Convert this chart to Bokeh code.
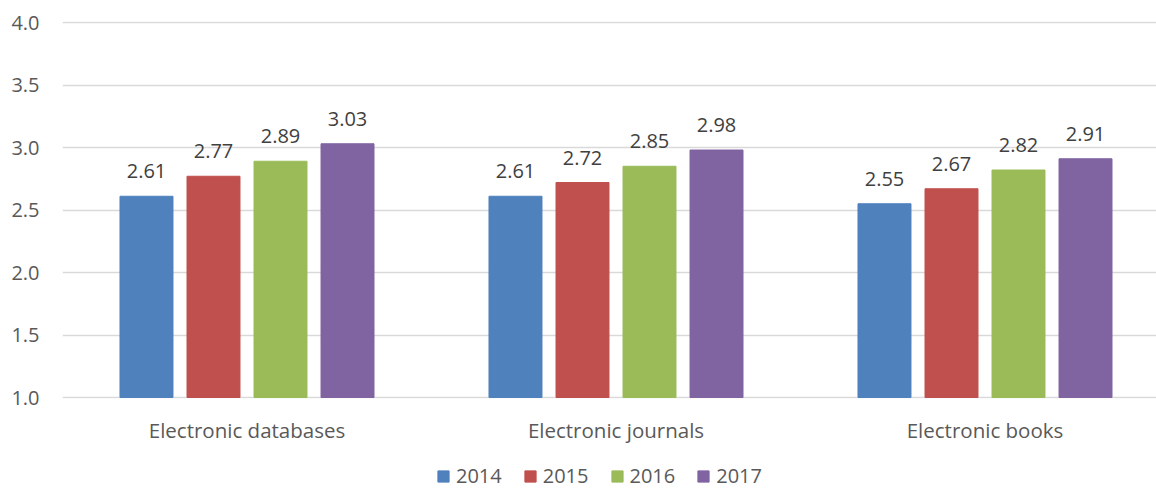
from bokeh.plotting import figure
from bokeh.layouts import column
from bokeh.models import Range1d, FixedTicker, Legend, LegendItem, ColumnDataSource
from bokeh.core.properties import value
from bokeh.embed import file_html
from bokeh.resources import INLINE

categories = ["Electronic databases", "Electronic journals", "Electronic books"]
years = ["2014", "2015", "2016", "2017"]
v2014 = [2.61, 2.61, 2.55]
v2015 = [2.77, 2.72, 2.67]
v2016 = [2.89, 2.85, 2.82]
v2017 = [3.03, 2.98, 2.91]
y_ticks = [1.0, 1.5, 2.0, 2.5, 3.0, 3.5, 4.0]

series = [v2014, v2015, v2016, v2017]
colors = ["#4F81BD", "#C0504D", "#9BBB59", "#8064A2"]
offsets = [-0.2724, -0.0908, 0.0908, 0.2724]
bar_w = 0.1436
FONT = "Open Sans"

p = figure(width=1156, height=458,
           x_range=Range1d(0, 1094 / 369), y_range=Range1d(0.992, 4.008),
           output_backend="svg", toolbar_location=None,
           min_border_left=62, min_border_right=0, min_border_top=21, min_border_bottom=60)
p.outline_line_color = None
p.background_fill_color = "white"
p.border_fill_color = "white"

centers = [i + 0.5 for i in range(len(categories))]
for yr, vals, col, off in zip(years, series, colors, offsets):
    xs = [c + off for c in centers]
    src = ColumnDataSource(dict(x=xs, top=vals, lab=[f"{v:.2f}" for v in vals]))
    p.vbar(x="x", top="top", bottom=1.0, width=bar_w, source=src,
           fill_color=col, line_color=col)
    p.text(x="x", y="top", text="lab", source=src, text_align="center",
           text_baseline="alphabetic", y_offset=-25, text_font=value(FONT),
           text_font_size="20px", text_color="#404040")

p.xaxis.ticker = FixedTicker(ticks=centers)
p.xaxis.major_label_overrides = {c: n for c, n in zip(centers, categories)}
p.xaxis.axis_line_color = None
p.xaxis.major_tick_line_color = None
p.xaxis.minor_tick_line_color = None
p.xaxis.major_tick_out = 0
p.xaxis.major_label_text_font = FONT
p.xaxis.major_label_text_font_size = "20.5px"
p.xaxis.major_label_text_color = "#595959"
p.xaxis.major_label_standoff = 17

p.yaxis.ticker = FixedTicker(ticks=y_ticks)
p.yaxis.major_label_overrides = {t: f"{t:.1f}" for t in y_ticks}
p.yaxis.axis_line_color = None
p.yaxis.major_tick_line_color = None
p.yaxis.minor_tick_line_color = None
p.yaxis.major_label_text_font = FONT
p.yaxis.major_label_text_font_size = "20px"
p.yaxis.major_label_text_color = "#595959"
p.yaxis.major_label_standoff = 17

p.xgrid.grid_line_color = None
p.ygrid.grid_line_color = "#D9D9D9"
p.ygrid.grid_line_width = 1.5

# legend strip below the chart
lg = figure(width=1156, height=31, x_range=Range1d(0, 1), y_range=Range1d(0, 1),
            x_axis_type=None, y_axis_type=None,
            output_backend="svg", toolbar_location=None, min_border=0)
lg.outline_line_color = None
lg.xgrid.grid_line_color = None
lg.ygrid.grid_line_color = None
items = []
for yr, col in zip(years, colors):
    r = lg.vbar(x=[5], top=[0.5], bottom=0, width=0.1, fill_color=col, line_color=col)
    items.append(LegendItem(label=yr, renderers=[r]))
legend = Legend(items=items, orientation="horizontal", location=(374, 0),
                glyph_width=14, glyph_height=14, label_standoff=6, spacing=21,
                label_height=14,
                label_text_font=FONT, label_text_font_size="20px",
                label_text_color="#595959", border_line_color=None,
                background_fill_alpha=0, padding=0, margin=0)
lg.add_layout(legend, "center")

open("out.html", "w").write(file_html(column(p, lg, spacing=0), INLINE))
